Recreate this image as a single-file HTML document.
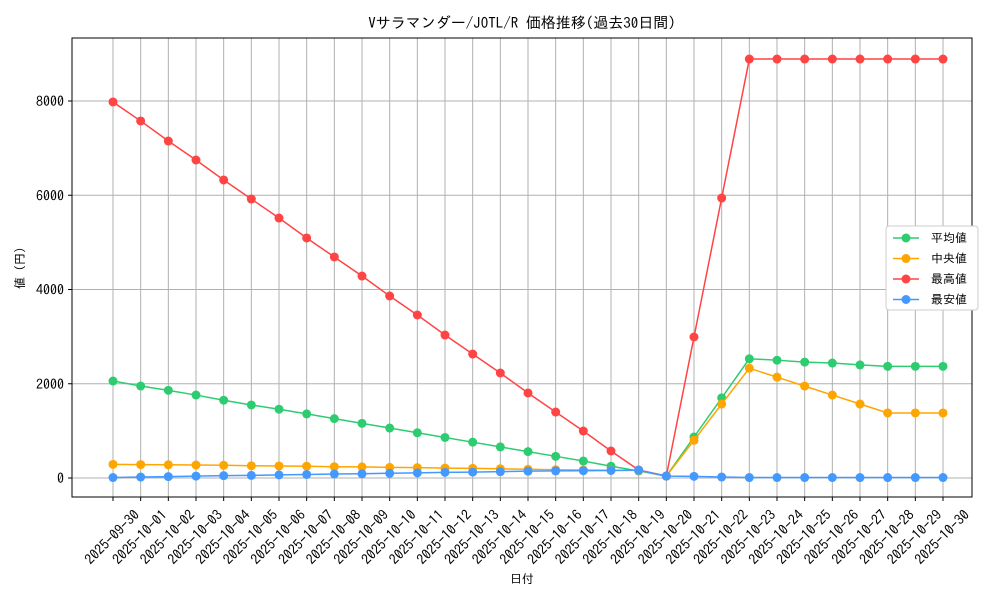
<!DOCTYPE html>
<html><head><meta charset="utf-8"><style>
body{margin:0;background:#fff}
svg text{font-family:"IPAGothic","Noto Sans CJK JP",monospace;fill:#000}
</style></head><body>
<svg id="c" width="1000" height="600"></svg>
<script>
const dates=["2025-09-30","2025-10-01","2025-10-02","2025-10-03","2025-10-04","2025-10-05","2025-10-06","2025-10-07","2025-10-08","2025-10-09","2025-10-10","2025-10-11","2025-10-12","2025-10-13","2025-10-14","2025-10-15","2025-10-16","2025-10-17","2025-10-18","2025-10-19","2025-10-20","2025-10-21","2025-10-22","2025-10-23","2025-10-24","2025-10-25","2025-10-26","2025-10-27","2025-10-28","2025-10-29","2025-10-30"];
const meanVals=[2058,1952,1860,1760,1650,1550,1460,1360,1260,1160,1060,960,860,760,660,560,460,360,250,150,40,870,1700,2530,2500,2460,2440,2400,2370,2370,2370];
const medianVals=[290,285,280,275,270,260,255,250,240,235,225,220,210,205,195,185,175,170,165,160,40,800,1570,2330,2140,1950,1760,1570,1380,1380,1380];
const maxVals=[7979,7576,7151,6748,6324,5920,5517,5093,4690,4286,3862,3459,3034,2631,2228,1804,1400,997,573,170,42,2992,5941,8890,8890,8890,8890,8890,8890,8890,8890];
const minVals=[10,20,30,40,50,55,65,75,85,90,100,110,120,125,135,145,150,155,160,165,40,35,20,10,10,10,10,10,10,10,10];
const yTicks=[0,2000,4000,6000,8000];
const seriesNames=["平均値","中央値","最高値","最安値"];
const NS="http://www.w3.org/2000/svg",svg=document.getElementById('c');
const L=72,R=972,T=38,B=497;
const xs=i=>113+i*(943-113)/(dates.length-1);
const ys=v=>478-v*(478-101)/8000;
function el(t,a,p){const e=document.createElementNS(NS,t);for(const k in a)e.setAttribute(k,a[k]);(p||svg).appendChild(e);return e;}
dates.forEach((d,i)=>{
 const g=el('line',{x1:xs(i),x2:xs(i),y1:T,y2:B,stroke:'#b0b0b0','stroke-width':1});
 
 
 el('line',{x1:xs(i),x2:xs(i),y1:B,y2:B+4,stroke:'#000'});
 const cx=xs(i)-1,cy=537;
 const t=el('text',{x:cx,y:cy+5,'font-size':14,'text-anchor':'middle',transform:`rotate(-45 ${cx} ${cy})`});
 t.textContent=d;
 
 
});
yTicks.forEach(v=>{
 const g=el('line',{x1:L,x2:R,y1:ys(v),y2:ys(v),stroke:'#b0b0b0','stroke-width':1});
 
 
 el('line',{x1:L-4,x2:L,y1:ys(v),y2:ys(v),stroke:'#000'});
 const t=el('text',{x:L-8,y:ys(v)+5,'font-size':14,'text-anchor':'end'});
 t.textContent=v;
 
 
});
const frame=el('rect',{x:L,y:T,width:R-L,height:B-T,fill:'none',stroke:'#000','stroke-width':1});


const series=[meanVals,medianVals,maxVals,minVals],colors=['#2ecc71','#ffa500','#ff4444','#4499ff'],keys=['mean','median','max','min'];
series.forEach((s,k)=>{
 const p=el('polyline',{points:s.map((v,i)=>xs(i)+','+ys(v)).join(' '),fill:'none',stroke:colors[k],'stroke-width':1.5});
 
 
 s.forEach((v,i)=>{
  const c=el('circle',{cx:xs(i),cy:ys(v),r:4.5,fill:colors[k]});
  
  
 });
});
const tt=el('text',{x:522,y:28,'font-size':15,'text-anchor':'middle'});
tt.textContent='Vサラマンダー/JOTL/R 価格推移(過去30日間)';


const xt=el('text',{x:522,y:583,'font-size':12,'text-anchor':'middle'});
xt.textContent='日付';


const yt=el('text',{x:24,y:268,'font-size':12,'text-anchor':'middle',transform:'rotate(-90 24 268)'});
yt.textContent='値 (円)';


const lg=el('g',{});


el('rect',{x:886,y:226,width:92,height:84,rx:3,fill:'#fff',stroke:'#ccc'},lg);
seriesNames.forEach((n,k)=>{
 const y=238+k*20.5;
 const e=el('g',{},lg);
 
 
 el('line',{x1:893,x2:919,y1:y,y2:y,stroke:colors[k],'stroke-width':1.5},e);
 el('circle',{cx:906,cy:y,r:4.5,fill:colors[k]},e);
 const t=el('text',{x:931,y:y+4,'font-size':12},e);t.textContent=n;
});
</script>
</body></html>
